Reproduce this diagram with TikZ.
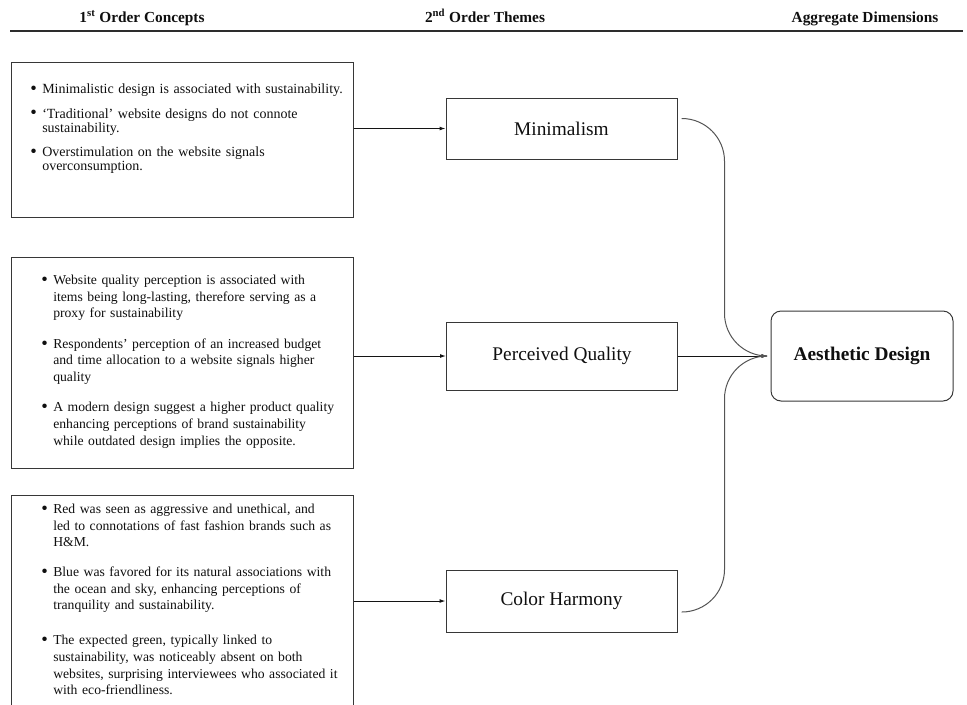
\documentclass[tikz,border=0pt]{standalone}
\usepackage{fontspec}
\setmainfont{Liberation Serif}
\usepackage{tikz}
\usetikzlibrary{
  arrows.meta,
  positioning,
  calc
}
\definecolor{boxcolor}{RGB}{55, 55, 55}
\definecolor{arrowcolor}{RGB}{20, 20, 20}
\definecolor{curvecolor}{RGB}{85, 85, 85}
\definecolor{rulecolor}{RGB}{45, 45, 45}
\definecolor{labelcolor}{RGB}{15, 15, 15}

% one bullet line of a concept box
\newcommand{\bulletpt}[1]{%
  \hangindent=9pt\hangafter=1\noindent
  \makebox[9pt][l]{\raisebox{-0.6pt}{\fontsize{14}{14}\selectfont\textbullet}}#1\par}
\newcommand{\itemskip}[1]{\vspace{#1}}

\tikzset{
conceptbox/.style={
  draw=boxcolor,
  line width=0.75pt,
  anchor=north west,
  minimum width=256.5pt,
  inner sep=0pt
},
bullettext/.style={
  anchor=north west,
  inner sep=0pt,
  text width=230pt,
  text=labelcolor,
  font=\fontsize{10.25}{12.4}\selectfont
},
themebox/.style={
  draw=boxcolor,
  line width=0.75pt,
  minimum width=173.25pt,
  text=labelcolor,
  font=\fontsize{14.5}{16}\selectfont
},
dimbox/.style={
  draw=boxcolor,
  line width=0.75pt,
  rounded corners=7.5pt,
  minimum width=136.5pt,
  minimum height=67.5pt,
  text=labelcolor,
  font=\bfseries\fontsize{14.5}{16}\selectfont
},
headlabel/.style={
  anchor=base,
  font=\bfseries\fontsize{11.5}{13}\selectfont,
  text=labelcolor
},
headrule/.style={
  draw=rulecolor,
  line width=1.2pt
},
arrow/.style={
  -{Latex[length=4.5pt,width=3pt]},
  line width=0.75pt,
  draw=arrowcolor
},
curvearrow/.style={
  arrow,
  draw=curvecolor,
  rounded corners=32pt,
  shorten >=2.25pt
}
}

\begin{document}
\begin{tikzpicture}[x=0.75pt, y=-0.75pt]
  \useasboundingbox (0,0) rectangle (967,704);

  % Column headers
  \node[headlabel] (h1) at (142,22) {1\textsuperscript{st} Order Concepts};
  \node[headlabel] (h2) at (485,22) {2\textsuperscript{nd} Order Themes};
  \node[headlabel] (h3) at (865,22) {Aggregate Dimensions};
  \draw[headrule] (10,31) -- (963,31);

  % 1st order concepts
  \node[conceptbox, minimum height=116.25pt] (c1) at (11,62) {};
  \node[bullettext, text width=240pt, font=\fontsize{10.5}{10.6}\selectfont] (c1txt)
    at ($(c1.north west)+(19,22)$) {%
    \bulletpt{Minimalistic design is associated with sustainability.}
    \itemskip{7.5pt}
    \bulletpt{`Traditional' website designs do not connote\newline sustainability.}
    \itemskip{7.5pt}
    \bulletpt{Overstimulation on the website signals\newline overconsumption.}};

  \node[conceptbox, minimum height=158.25pt] (c2) at (11,257) {};
  \node[bullettext] (c2txt) at ($(c2.north west)+(30,18)$) {%
    \bulletpt{Website quality perception is associated with\newline items being long-lasting, therefore serving as a\newline proxy for sustainability}
    \itemskip{10.5pt}
    \bulletpt{Respondents' perception of an increased budget\newline and time allocation to a website signals higher\newline quality}
    \itemskip{10.5pt}
    \bulletpt{A modern design suggest a higher product quality\newline enhancing perceptions of brand sustainability\newline while outdated design implies the opposite.}};

  \node[conceptbox, minimum height=158.25pt] (c3) at (11,495) {};
  \node[bullettext] (c3txt) at ($(c3.north west)+(30,9)$) {%
    \bulletpt{Red was seen as aggressive and unethical, and\newline led to connotations of fast fashion brands such as\newline H\&M.}
    \itemskip{10pt}
    \bulletpt{Blue was favored for its natural associations with\newline the ocean and sky, enhancing perceptions of\newline tranquility and sustainability.}
    \itemskip{14pt}
    \bulletpt{The expected green, typically linked to\newline sustainability, was noticeably absent on both\newline websites, surprising interviewees who associated it\newline with eco-friendliness.}};

  % 2nd order themes
  \node[themebox, minimum height=45.75pt] (mini) at (561.5,128.5) {Minimalism};
  \node[themebox, minimum height=51pt] (pq) at (562,356) {Perceived Quality};
  \node[themebox, minimum height=46.5pt] (ch) at (561.5,601) {Color Harmony};

  % Aggregate dimension
  \node[dimbox] (ad) at (862,356) {Aesthetic Design};

  % Concepts to themes
  \draw[arrow] (c1.east |- mini.west) -- (mini.west);
  \draw[arrow] (c2.east |- pq.west) -- (pq.west);
  \draw[arrow] (c3.east |- ch.west) -- (ch.west);

  % Themes to dimension
  \draw[arrow, shorten >=2.25pt] (pq.east) -- (ad.west);
  \draw[curvearrow] ($(mini.east)+(4,-10)$) -| ($(ad.west)+(-46,0)$) -- (ad.west);
  \draw[curvearrow] ($(ch.east)+(4,11)$) -| ($(ad.west)+(-46,0)$) -- (ad.west);
\end{tikzpicture}
\end{document}
